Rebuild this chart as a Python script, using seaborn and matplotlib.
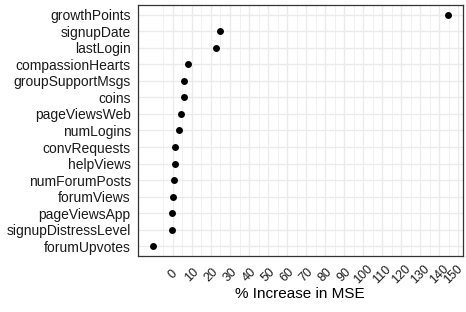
import numpy as np
import pandas as pd
import matplotlib
matplotlib.use("Agg")
import matplotlib.pyplot as plt
import matplotlib.transforms as mtransforms
import seaborn as sns

# variable importance, top to bottom
features = ['growthPoints', 'signupDate', 'lastLogin', 'compassionHearts',
            'groupSupportMsgs', 'coins', 'pageViewsWeb', 'numLogins',
            'convRequests', 'helpViews', 'numForumPosts', 'forumViews',
            'pageViewsApp', 'signupDistressLevel', 'forumUpvotes']
inc_mse = [144.7, 24.8, 22.6, 7.7, 5.9, 5.6, 4.4, 3.3,
           1.2, 0.9, 0.35, -0.2, -0.4, -0.6, -10.7]
x_ticks = list(range(0, 151, 10))
x_minor = list(range(-5, 150, 10))

df = pd.DataFrame({'feature': features, 'inc': inc_mse})

sns.set_style("white")
plt.rcParams['font.family'] = ['Liberation Sans', 'DejaVu Sans']

fig = plt.figure(figsize=(4.66, 3.12), dpi=100)
ax = fig.add_axes([0.2955, 0.1795, 0.6975, 0.8045])

sns.stripplot(data=df, x='inc', y='feature', order=features, jitter=False,
              color='black', size=5, linewidth=0, ax=ax, zorder=3)

ax.set_xlim(-18.5, 152.3)
ax.set_ylim(len(features) - 0.4, -0.6)

ax.set_xticks(x_ticks)
ax.set_xticks(x_minor, minor=True)
ax.grid(True, which='major', color='#EBEBEB', linewidth=1.0, zorder=0)
ax.grid(True, which='minor', axis='x', color='#EBEBEB', linewidth=0.5, zorder=0)
ax.set_axisbelow(True)

for s in ax.spines.values():
    s.set_color('#333333')
    s.set_linewidth(0.9)
    s.set_visible(True)

ax.tick_params(axis='both', which='major', length=3, width=0.8, color='#333333',
               labelcolor='#1A1A1A')
ax.tick_params(axis='y', labelsize=10, pad=2)
ax.tick_params(axis='x', which='major', labelsize=9, pad=10.6)
ax.tick_params(axis='x', which='minor', length=0)
ax.set_xticklabels([str(t) for t in x_ticks], rotation=45,
                   ha='center', va='center', rotation_mode='anchor')

# last label sits right at the figure edge, pull it in a little
last = ax.get_xticklabels()[-1]
shift = mtransforms.ScaledTranslation(-5 / 100, 0, fig.dpi_scale_trans)
last.set_transform(last.get_transform() + shift)

ax.set_ylabel('')
ax.set_xlabel('% Increase in MSE', fontsize=11, color='black', labelpad=0)

fig.savefig('out.png', dpi=100)
